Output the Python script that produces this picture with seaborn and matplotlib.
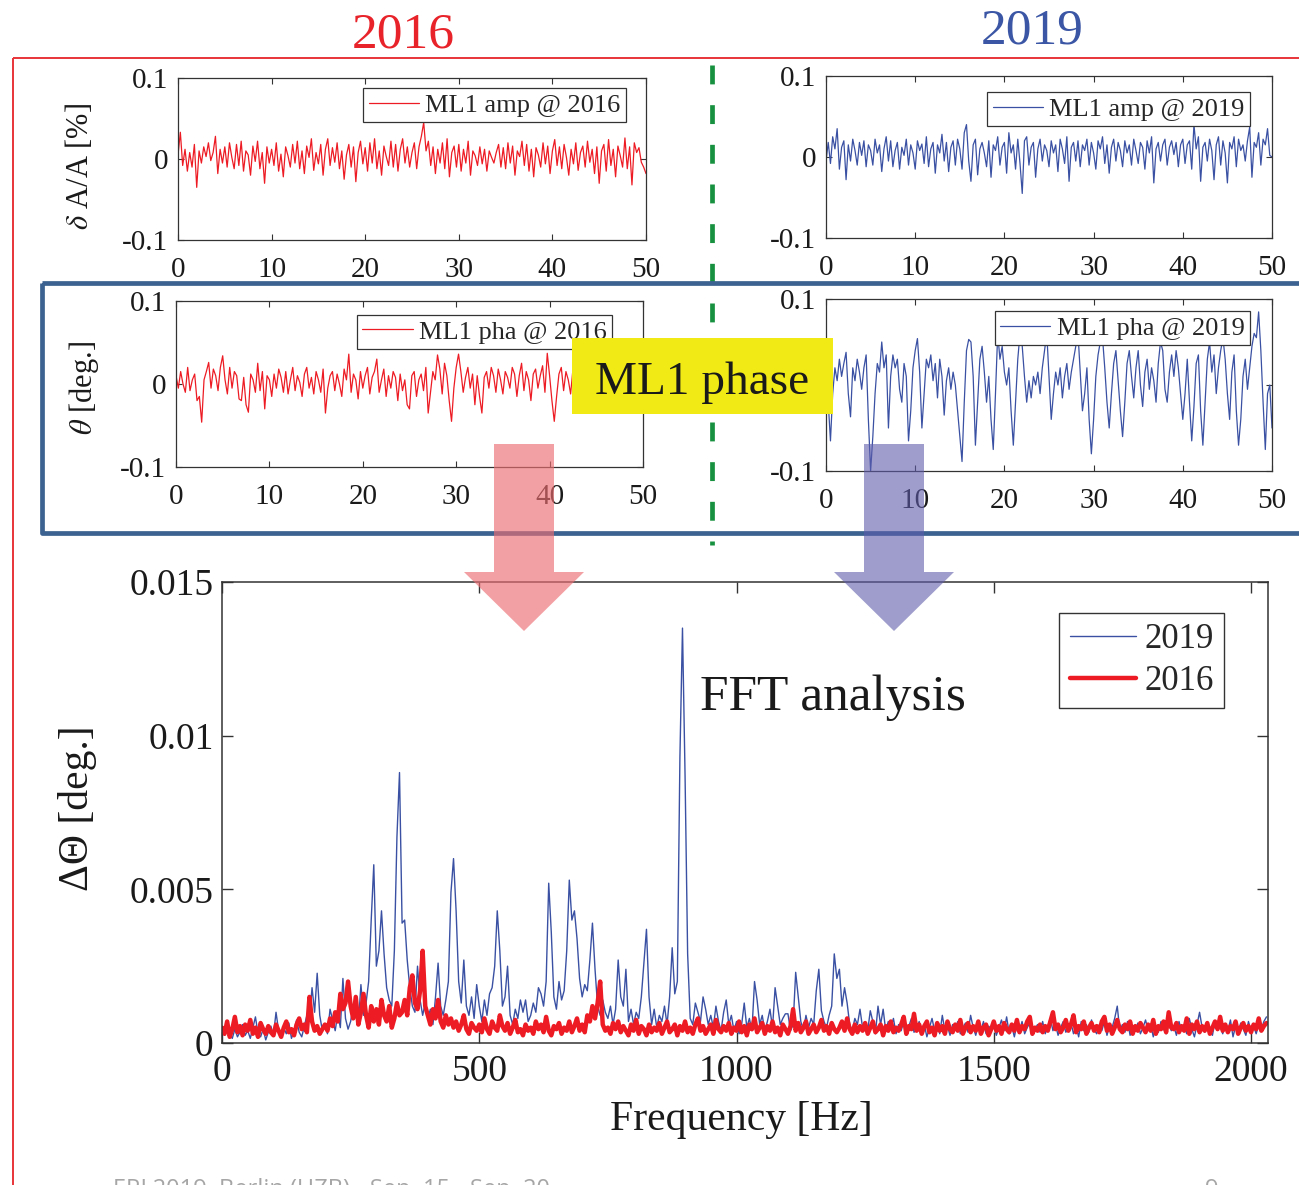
import numpy as np
import pandas as pd
import matplotlib
matplotlib.use("Agg")
import matplotlib.pyplot as plt
from matplotlib.patches import Rectangle, Polygon
import seaborn as sns

# ---------------- time-domain traces (0 ... 50, step 0.25), values in 1e-3 ----------------
time_s = np.arange(201) * 0.25

amp_2016_milli = [
    5, 33, -8, 12, -15, 8, -10, 18, -35, 10, -5, 15, 3, 20, -2, 8, 28, -18, 12, -5,
    15, -10, 20, 2, -12, 18, -8, 22, -15, 10, 5, -20, 16, -3, 22, -12, 8, -30, 15, -5,
    12, -8, 20, -15, 6, -22, 15, 4, -10, 18, -5, 22, -12, 10, -18, 16, 2, 25, -14, 8,
    -6, 18, -20, 12, 25, -8, 14, -4, 20, -12, 10, -25, 5, 18, -10, 15, -28, 8, 22, -6,
    14, -15, 20, -5, 25, -12, 10, -20, 16, 3, -8, 22, -10, 18, -15, 12, 25, -5, 15, -10,
    8, 20, -12, 15, 28, 45, 10, 22, -8, 15, -18, 12, -5, 20, -12, 25, -22, 8, 16, -10,
    18, -15, 12, -5, 22, -20, 10, 4, -8, 15, -6, 12, -15, 10, 2, -5, 8, 18, -10, 14,
    -12, 20, -5, 16, -20, 10, 3, 22, -8, 18, -15, 12, -22, 14, 5, -10, 20, -6, 16, -18,
    10, 24, -8, 15, -12, 18, 2, -20, 12, -6, 20, -14, 8, 16, -10, 22, -4, 12, -18, 15,
    -30, 10, 18, -15, 24, -8, 12, -22, 16, 4, -10, 26, -12, 15, -32, 20, 8, 14, -4, -10, -18,
]

amp_2019_milli = [
    -5, 18, -8, 25, 10, 35, -15, 12, 20, -28, 15, -5, 22, 8, -10, 18, 2, 20, -12, 15,
    8, -10, 22, 5, 15, -18, 10, 25, -5, 20, -12, 8, 18, -15, 12, 2, 22, -10, 15, 5,
    -15, 20, 8, 16, -8, 25, -12, 10, 18, -20, 15, 5, 28, -5, 18, -18, 12, 20, -10, 22,
    10, -15, 30, 40, -5, -30, 15, 22, -22, 10, 18, 5, -12, 20, -25, 15, 8, 25, -10, 12,
    18, -20, 30, 5, 15, -15, 22, -8, -45, 20, 25, -10, 12, 18, -25, 10, 22, -5, 15, 8,
    -12, 20, 5, 15, -18, 22, 10, -8, 25, -30, 12, 18, -5, 20, -12, 15, 8, 22, -10, 18,
    5, -15, 20, 10, 25, -8, 15, -20, 12, 22, -5, 18, 8, -12, 20, 5, 15, -10, 22, 8,
    -8, 18, 12, -15, 20, 5, 25, -32, 10, 18, -5, 15, 22, -10, 12, 20, 3, 18, -12, 15,
    22, -8, 15, 20, -15, 40, 10, 25, -30, 12, 18, -5, 22, 8, -28, 15, 25, -10, 20, 5,
    -32, 18, 10, 25, -12, 22, 8, 15, -5, 20, 37, -25, 18, 12, 30, -10, 22, 15, 35, 2, 0,
]

pha_2016_milli = [
    10, -5, 15, 0, -10, 20, -8, 5, 12, -20, -15, -46, 5, 15, 26, -5, 18, 10, -8, 20,
    34, 5, -12, 20, -5, 15, 10, -18, -20, 8, -25, -34, 12, 5, -10, 25, -8, 15, -30, 10,
    5, -15, 12, -5, 18, 8, -10, 15, -12, 5, 20, -8, 10, 2, -15, 12, 20, -5, 8, -12,
    15, 5, -10, 18, -35, -5, 10, 15, -8, 12, 0, -15, 18, 5, 36, -10, 12, 5, -18, 15,
    -5, 10, 20, -12, 8, 15, 30, -10, 5, 18, -15, 10, -5, 15, 8, -20, 12, -8, 5, -25,
    -30, 10, 15, -15, 5, 12, -8, 20, -35, -10, 15, 5, 35, 18, -12, 25, 10, -20, -45, -5,
    20, 36, 15, -10, 8, 20, -5, 12, -25, 10, -15, -35, 8, 15, -5, 20, 10, -10, 18, 5,
    -12, 15, 8, -5, 20, 12, -15, 10, 25, -8, 15, 5, -20, 12, 18, -5, 10, 22, -10, 37,
    10, -20, -45, -15, 12, 20, -8, 15, 5, -12, 18, 10, -5, 15, 20, -15, 8, 12, -10, 15,
    5, -18, 12, 20, -8, 15, 5, -12, 18, 10, -5, 20, -15, 8, 12, -10, 15, 5, -8, 10, 0,
]

pha_2019_milli = [
    0, -20, -65, -10, 20, 5, 30, 10, 25, 38, -10, -37, 20, 5, 30, 15, -5, 20, 35, -40,
    -100, -60, -10, 25, 15, 50, 20, 35, -50, 10, 35, 20, 30, -5, -20, 25, 10, -65, -30, 20,
    40, 54, 15, -50, -10, 30, 20, 35, 5, 25, -15, 30, 10, -35, 5, 20, -5, 15, 0, -30,
    -60, -89, -20, 40, 53, 50, 10, -70, -20, 30, 45, 15, -20, 10, -40, -75, -10, 60, 30, 45,
    15, 0, 20, -30, -70, -20, 30, 60, 45, 10, -20, 5, -15, 10, 0, 15, -10, 20, 40, 60,
    10, -40, -10, 15, 0, 20, -15, 10, 25, -5, 15, 30, 45, 60, 15, -30, -10, 20, -40, -80,
    -40, 10, 35, 50, 55, 20, -20, -50, -10, 25, 40, 5, -30, -60, -20, 25, 40, 10, -15, 20,
    40, 0, -25, 15, 30, -5, 20, 5, -20, 25, 50, 40, -5, -20, 15, 35, 10, 40, 20, -10,
    -40, -10, 30, -20, -65, -25, 25, 35, -30, -70, -20, 30, 50, 15, 35, -10, 20, 40, 55, 30,
    -10, -40, 15, 35, -30, -70, -40, 10, 30, -5, 20, 45, 60, 55, 85, 40, -20, -75, -10, 0, -50,
]

# ---------------- phase spectra (0 ... 2030 Hz, step 5 Hz), values in 1e-5 deg ----------------
spec_2019_e5 = [
    40, 25, 55, 30, 15, 45, 20, 35, 60, 25,
    40, 15, 50, 85, 30, 20, 45, 10, 35, 55,
    25, 100, 40, 20, 50, 30, 65, 15, 40, 75,
    35, 20, 55, 90, 80, 180, 100, 227, 90, 40,
    60, 30, 110, 75, 40, 95, 50, 210, 80, 45,
    70, 120, 150, 60, 190, 90, 130, 200, 400, 580,
    250, 300, 430, 290, 180, 140, 120, 300, 670, 880,
    390, 400, 270, 180, 120, 100, 250, 140, 90, 130,
    80, 110, 60, 150, 260, 120, 90, 140, 200, 490,
    600, 430, 200, 130, 270, 120, 90, 150, 80, 190,
    120, 70, 140, 90, 160, 180, 250, 430, 300, 120,
    150, 250, 90, 60, 110, 80, 140, 100, 140, 70,
    90, 130, 100, 180, 160, 120, 200, 520, 360, 150,
    110, 200, 140, 170, 300, 530, 400, 430, 340, 210,
    150, 190, 170, 270, 390, 240, 120, 90, 140, 100,
    80, 120, 60, 110, 270, 150, 120, 240, 70, 110,
    60, 100, 80, 150, 260, 370, 150, 60, 110, 50,
    90, 70, 120, 60, 150, 310, 160, 200, 930, 1350,
    870, 290, 80, 60, 130, 100, 70, 150, 110, 60,
    90, 50, 120, 70, 40, 100, 140, 60, 90, 40,
    70, 30, 60, 130, 50, 80, 40, 200, 140, 60,
    90, 40, 70, 110, 50, 180, 120, 60, 80, 95,
    95, 40, 60, 230, 150, 70, 40, 90, 50, 80,
    60, 170, 240, 105, 70, 50, 90, 120, 290, 210,
    240, 120, 180, 130, 60, 40, 80, 60, 110, 50,
    60, 40, 105, 70, 30, 120, 60, 110, 40, 70,
    50, 80, 30, 60, 40, 70, 25, 55, 80, 35,
    45, 70, 30, 60, 20, 50, 80, 40, 65, 30,
    90, 40, 55, 25, 60, 45, 70, 30, 50, 65,
    35, 90, 50, 25, 60, 40, 70, 30, 55, 45,
    60, 25, 50, 75, 40, 85, 30, 55, 20, 60,
    40, 70, 30, 50, 65, 25, 45, 60, 35, 70,
    30, 55, 80, 40, 60, 25, 50, 70, 35, 45,
    65, 30, 55, 20, 70, 40, 60, 35, 75, 45,
    30, 60, 40, 70, 25, 55, 50, 80, 120, 40,
    60, 35, 70, 25, 55, 40, 65, 30, 50, 75,
    40, 60, 20, 55, 35, 70, 45, 30, 65, 40,
    55, 25, 70, 40, 60, 30, 80, 45, 20, 60,
    100, 50, 35, 65, 40, 25, 70, 45, 55, 30,
    60, 40, 75, 20, 55, 35, 65, 45, 25, 70,
    40, 55, 30, 60, 45, 70, 85,
]

spec_2016_e5 = [
    50, 30, 70, 20, 45, 85, 35, 55, 25, 60,
    40, 75, 30, 50, 20, 65, 45, 30, 55, 35,
    25, 60, 40, 20, 50, 70, 35, 45, 25, 60,
    80, 45, 60, 35, 150, 70, 40, 55, 30, 45,
    60, 40, 80, 55, 100, 70, 160, 110, 130, 200,
    120, 80, 150, 60, 100, 160, 90, 50, 120, 70,
    110, 60, 140, 90, 70, 120, 50, 80, 130, 90,
    100, 140, 90, 180, 220, 130, 110, 170, 300, 120,
    90, 60, 110, 80, 140, 70, 50, 90, 60, 80,
    50, 70, 40, 60, 90, 45, 30, 65, 50, 40,
    60, 35, 80, 45, 30, 70, 50, 40, 90, 55,
    40, 65, 30, 50, 75, 35, 45, 25, 60, 40,
    50, 30, 70, 45, 60, 35, 85, 40, 25, 55,
    45, 65, 30, 50, 40, 70, 35, 55, 80, 40,
    60, 35, 90, 70, 120, 80, 130, 200, 60, 40,
    50, 30, 65, 45, 70, 35, 55, 40, 25, 60,
    40, 75, 30, 55, 45, 25, 60, 35, 50, 40,
    65, 30, 50, 70, 35, 45, 60, 25, 55, 40,
    70, 35, 50, 30, 60, 80, 40, 55, 30, 45,
    60, 30, 75, 45, 35, 55, 40, 65, 30, 50,
    40, 70, 35, 55, 25, 60, 45, 80, 35, 50,
    65, 30, 55, 40, 70, 35, 50, 25, 60, 45,
    30, 55, 110, 40, 65, 35, 50, 70, 30, 45,
    60, 35, 50, 75, 40, 55, 30, 65, 45, 35,
    50, 70, 40, 80, 45, 30, 60, 35, 55, 40,
    65, 30, 50, 70, 35, 45, 60, 25, 55, 40,
    70, 35, 50, 40, 60, 85, 30, 55, 45, 95,
    40, 60, 30, 55, 70, 35, 50, 25, 65, 40,
    55, 30, 70, 45, 35, 60, 40, 75, 30, 50,
    65, 35, 55, 40, 70, 30, 50, 60, 25, 45,
    70, 40, 55, 30, 65, 45, 35, 60, 40, 75,
    35, 55, 45, 70, 85, 30, 50, 40, 60, 35,
    55, 40, 70, 100, 45, 60, 35, 50, 75, 40,
    60, 90, 35, 55, 45, 70, 30, 50, 65, 40,
    55, 35, 70, 85, 40, 60, 30, 50, 75, 45,
    35, 60, 45, 70, 30, 55, 40, 65, 50, 35,
    60, 40, 75, 30, 55, 45, 70, 35, 100, 50,
    45, 65, 35, 55, 40, 80, 30, 60, 45, 70,
    35, 55, 40, 65, 30, 50, 70, 45, 85, 40,
    60, 35, 55, 45, 70, 30, 50, 65, 40, 55,
    35, 60, 45, 80, 40, 55, 65,
]
freq_hz = np.arange(len(spec_2019_e5)) * 5

time_ticks = [0, 10, 20, 30, 40, 50]
time_tick_labels = ["0", "10", "20", "30", "40", "50"]
small_yticks = [-0.1, 0, 0.1]
small_ytick_labels = ["-0.1", "0", "0.1"]
freq_ticks = [0, 500, 1000, 1500, 2000]
freq_tick_labels = ["0", "500", "1000", "1500", "2000"]
spec_yticks = [0, 0.005, 0.01, 0.015]
spec_ytick_labels = ["0", "0.005", "0.01", "0.015"]

RED = "#ed1c24"
BLUE = "#3a51a3"

sns.set_style("ticks")
plt.rcParams["font.family"] = ["Liberation Serif", "DejaVu Serif"]
plt.rcParams["mathtext.fontset"] = "stix"
plt.rcParams["axes.unicode_minus"] = False

W, H = 1299, 1185
fig = plt.figure(figsize=(W / 100, H / 100), dpi=100)
fig.patch.set_facecolor("white")


def px_axes(x0, y0, x1, y1):
    return fig.add_axes([x0 / W, 1 - y1 / H, (x1 - x0) / W, (y1 - y0) / H])


def style_small(ax):
    ax.set_xlim(0, 50)
    ax.set_ylim(-0.1, 0.1)
    ax.set_xticks(time_ticks)
    ax.set_xticklabels(time_tick_labels)
    ax.set_yticks(small_yticks)
    ax.set_yticklabels(small_ytick_labels)
    ax.tick_params(direction="in", top=True, right=True, length=4, width=0.8,
                   labelsize=21, pad=7, color="#333333", labelcolor="#1a1a1a")
    ax.tick_params(axis="x", pad=12)
    for s in ax.spines.values():
        s.set_visible(True)
        s.set_color("#333333")
        s.set_linewidth(0.9)
    ax.set_xlabel("")
    ax.set_ylabel("")


def small_legend(ax, anchor):
    leg = ax.legend(loc="upper right", bbox_to_anchor=anchor, borderaxespad=0,
                    fontsize=19, handlelength=1.9, handletextpad=0.25,
                    borderpad=0.2, fancybox=False, framealpha=1,
                    edgecolor="#333333")
    leg.get_frame().set_linewidth(0.9)


panels = [
    ((178, 78, 646, 240), amp_2016_milli, RED, "ML1 amp @ 2016", (0.957, 0.938)),
    ((826, 76, 1272, 238), amp_2019_milli, BLUE, "ML1 amp @ 2019", (0.951, 0.901)),
    ((176, 301, 643, 467), pha_2016_milli, RED, "ML1 pha @ 2016", (0.934, 0.916)),
    ((826, 299, 1272, 471), pha_2019_milli, BLUE, "ML1 pha @ 2019", (0.951, 0.930)),
]
for box, vals, col, lab, anchor in panels:
    ax = px_axes(*box)
    df = pd.DataFrame({"t": time_s, "v": np.array(vals) / 1000.0})
    sns.lineplot(data=df, x="t", y="v", ax=ax, color=col, linewidth=0.9, label=lab)
    style_small(ax)
    small_legend(ax, anchor)

fig.text(80 / W, 1 - 166 / H, r"$\delta$ A/A [%]", rotation=90, ha="center",
         va="center", fontsize=22, color="#1a1a1a")
fig.text(84 / W, 1 - 388 / H, r"$\theta$ [deg.]", rotation=90, ha="center",
         va="center", fontsize=22, color="#1a1a1a")

# ---------------- spectrum panel ----------------
axf = px_axes(222, 582, 1268, 1043)
spec = pd.DataFrame({
    "f": np.concatenate([freq_hz, freq_hz]),
    "a": np.concatenate([np.array(spec_2019_e5), np.array(spec_2016_e5)]) * 1e-5,
    "year": ["2019"] * len(freq_hz) + ["2016"] * len(freq_hz),
})
sns.lineplot(data=spec[spec.year == "2019"], x="f", y="a", ax=axf, color=BLUE,
             linewidth=1.0, label="2019")
sns.lineplot(data=spec[spec.year == "2016"], x="f", y="a", ax=axf, color=RED,
             linewidth=3.2, label="2016")
axf.set_xlim(0, 2033)
axf.set_ylim(0, 0.015)
axf.set_xticks(freq_ticks)
axf.set_xticklabels(freq_tick_labels)
axf.set_yticks(spec_yticks)
axf.set_yticklabels(spec_ytick_labels)
axf.tick_params(direction="in", top=True, right=True, length=8, width=1.0,
                labelsize=27, pad=6, color="#333333", labelcolor="#1a1a1a")
axf.tick_params(axis="x", pad=8)
for s in axf.spines.values():
    s.set_visible(True)
    s.set_color("#333333")
    s.set_linewidth(1.1)
axf.set_xlabel("")
axf.set_ylabel("")
leg = axf.legend(loc="upper right", bbox_to_anchor=(0.958, 0.933), borderaxespad=0,
                 fontsize=25, handlelength=1.9, handletextpad=0.25, borderpad=0.3,
                 labelspacing=0.25, fancybox=False, framealpha=1, edgecolor="#333333")
leg.get_frame().set_linewidth(1.0)
axf.text(0.457, (1043 - 710) / 461, "FFT analysis", transform=axf.transAxes,
         ha="left", va="baseline", fontsize=37, color="#1a1a1a")

# ---------------- annotation layer ----------------
ov = fig.add_axes([0, 0, 1, 1], zorder=20)
ov.set_xlim(0, W)
ov.set_ylim(H, 0)
ov.axis("off")
ov.patch.set_alpha(0)

ov.text(403, 47, "2016", color="#e8232a", fontsize=37, ha="center", va="baseline")
ov.text(1032, 43, "2019", color="#3a56a5", fontsize=37, ha="center", va="baseline")

ov.plot([13, 13], [1200, 58], color="#e8343a", lw=1.4, solid_capstyle="butt", zorder=1)
ov.plot([13, 1310], [58, 58], color="#e8343a", lw=1.4, solid_capstyle="butt", zorder=1)

ov.plot([712, 712], [65, 545], color="#17913f", lw=3.4,
        linestyle=(0, (4.0, 4.4)), dash_capstyle="butt", zorder=1)

ov.add_patch(Rectangle((42, 283), 1300, 250, fill=False, edgecolor="#3b6290",
                       lw=3.4, joinstyle="round", zorder=2))

ov.add_patch(Rectangle((572, 338), 261, 76, facecolor="#f2ea14", edgecolor="none",
                       zorder=3))
ov.text(702, 394, "ML1 phase", fontsize=34, color="#1a1a1a", ha="center",
        va="baseline", zorder=4)

ov.add_patch(Polygon([(494, 444), (554, 444), (554, 572), (584, 572), (524, 631),
                      (464, 572), (494, 572)], closed=True, facecolor="#ee6e73",
                     edgecolor="none", alpha=0.65, zorder=5))
ov.add_patch(Polygon([(864, 444), (924, 444), (924, 572), (954, 572), (894, 631),
                      (834, 572), (864, 572)], closed=True, facecolor="#5e5cab",
                     edgecolor="none", alpha=0.6, zorder=5))

ov.text(78, 808, "ΔΘ [deg.]", rotation=90, ha="center", va="center",
        fontsize=30, color="#1a1a1a")
ov.text(741, 1130, "Frequency [Hz]", ha="center", va="baseline",
        fontsize=30, color="#1a1a1a")

ov.text(113, 1196, "ERL2019, Berlin (HZB) - Sep. 15 - Sep. 20", ha="left",
        va="baseline", fontsize=17, color="#a6a6a6", family=["Open Sans", "DejaVu Sans"])
ov.text(1205, 1196, "9", ha="left", va="baseline", fontsize=17, color="#a6a6a6",
        family=["Open Sans", "DejaVu Sans"])

fig.savefig("out.png", dpi=100)
